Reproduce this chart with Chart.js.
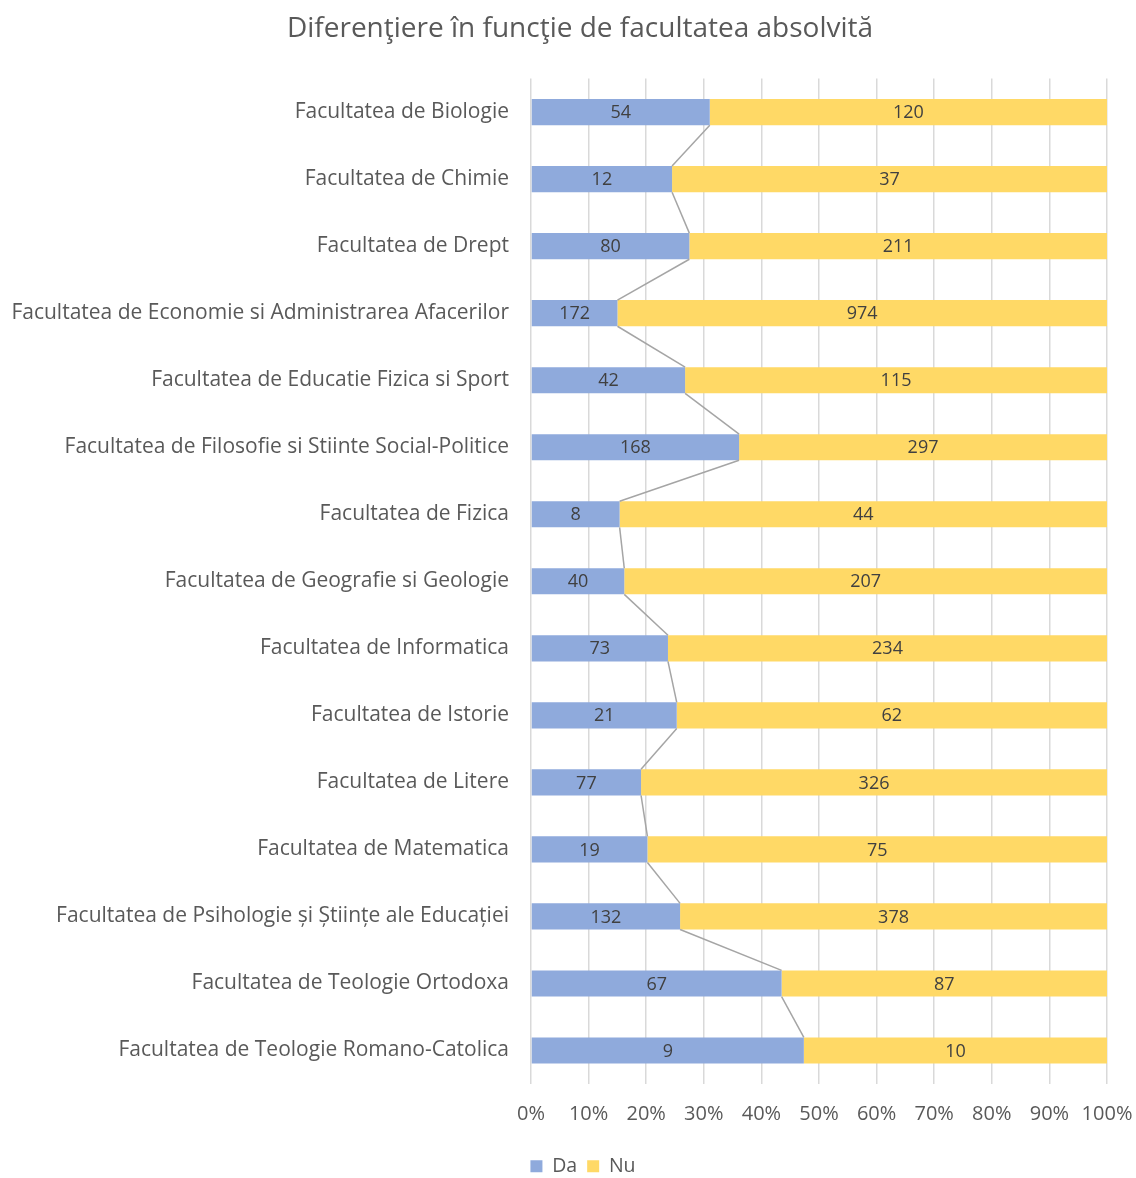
<!DOCTYPE html>
<html><head><meta charset="utf-8">
<script src="https://cdn.jsdelivr.net/npm/chart.js@4/dist/chart.umd.min.js"></script>
<style>html,body{margin:0;padding:0;background:#fff}#wrap{width:1136px;height:1178px}</style>
</head><body><div id="wrap"><canvas id="c" width="1136" height="1178"></canvas></div>
<script>
const categories = [
  "Facultatea de Biologie",
  "Facultatea de Chimie",
  "Facultatea de Drept",
  "Facultatea de Economie si Administrarea Afacerilor",
  "Facultatea de Educatie Fizica si Sport",
  "Facultatea de Filosofie si Stiinte Social-Politice",
  "Facultatea de Fizica",
  "Facultatea de Geografie si Geologie",
  "Facultatea de Informatica",
  "Facultatea de Istorie",
  "Facultatea de Litere",
  "Facultatea de Matematica",
  "Facultatea de Psihologie și Științe ale Educației",
  "Facultatea de Teologie Ortodoxa",
  "Facultatea de Teologie Romano-Catolica"
];
const daValues = [54, 12, 80, 172, 42, 168, 8, 40, 73, 21, 77, 19, 132, 67, 9];
const nuValues = [120, 37, 211, 974, 115, 297, 44, 207, 234, 62, 326, 75, 378, 87, 10];
const xTicks = [0,10,20,30,40,50,60,70,80,90,100];
const titleText = "Diferenţiere în funcţie de facultatea absolvită";

const totals = daValues.map((v,i)=>v+nuValues[i]);
const daPct = daValues.map((v,i)=>v/totals[i]*100);
const nuPct = nuValues.map((v,i)=>v/totals[i]*100);
const rawData = [daValues, nuValues];

const FONT = "'Open Sans', 'DejaVu Sans', sans-serif";

const seriesLines = {
  id:'seriesLines',
  afterDatasetsDraw(chart){
    const meta = chart.getDatasetMeta(0);
    const ctx = chart.ctx;
    ctx.save();
    ctx.strokeStyle = '#A5A5A5';
    ctx.lineWidth = 1.5;
    for(let i=0;i<meta.data.length-1;i++){
      const a = meta.data[i], b = meta.data[i+1];
      ctx.beginPath();
      ctx.moveTo(a.x, a.y + a.height/2);
      ctx.lineTo(b.x, b.y - b.height/2);
      ctx.stroke();
    }
    ctx.restore();
  }
};
const barLabels = {
  id:'barLabels',
  afterDatasetsDraw(chart){
    const ctx = chart.ctx;
    ctx.save();
    ctx.font = "18px " + FONT;
    ctx.fillStyle = '#404040';
    ctx.textAlign = 'center';
    ctx.textBaseline = 'middle';
    chart.data.datasets.forEach((ds,di)=>{
      const meta = chart.getDatasetMeta(di);
      meta.data.forEach((el,i)=>{
        const cx = (el.x + el.base)/2;
        ctx.fillText(String(rawData[di][i]), cx, el.y+1);
      });
    });
    ctx.restore();
  }
};
const boxShift = {
  id:'boxShift',
  afterLayout(chart){
    if(chart.legend){ chart.legend.left += 15; chart.legend.right += 15; chart.legend.top += 8; chart.legend.bottom += 8; }
    if(chart.titleBlock){ chart.titleBlock.left += 12; chart.titleBlock.right += 12; }
  }
};

new Chart(document.getElementById('c'), {
  type:'bar',
  data:{
    labels: categories,
    datasets:[
      {label:'Da', data: daPct, backgroundColor:'#8FAADC', barPercentage:0.39, categoryPercentage:1},
      {label:'Nu', data: nuPct, backgroundColor:'#FFD966', barPercentage:0.39, categoryPercentage:1}
    ]
  },
  options:{
    indexAxis:'y',
    responsive:false,
    animation:false,
    layout:{padding:{left:0,right:0,top:0,bottom:0}},
    plugins:{
      title:{display:true,text:titleText,color:'#595959',font:{family:FONT,size:28,weight:'normal'},padding:{top:12,bottom:33}},
      legend:{position:'bottom',labels:{color:'#595959',font:{family:FONT,size:19.5},boxWidth:12,boxHeight:12,padding:10,useBorderRadius:false}},
      tooltip:{enabled:false}
    },
    scales:{
      x:{stacked:true,min:0,max:100,
        afterBuildTicks(s){ s.ticks = xTicks.map(v=>({value:v})); },
        ticks:{color:'#595959',font:{family:FONT,size:20},padding:18.5,callback:v=>v+'%',maxRotation:0},
        grid:{color:'#D9D9D9',lineWidth:1.5,drawTicks:false},
        border:{display:false},
        afterFit(s){ s.height = 54.5; s.paddingRight = 29; s.paddingLeft = 0; }
      },
      y:{stacked:true,
        afterFit(s){ s.width = 531; },
        ticks:{color:'#595959',font:{family:FONT,size:21},padding:22,autoSkip:false},
        grid:{display:false,drawTicks:false},
        border:{display:false}
      }
    }
  },
  plugins:[seriesLines, barLabels, boxShift]
});
</script></body></html>
